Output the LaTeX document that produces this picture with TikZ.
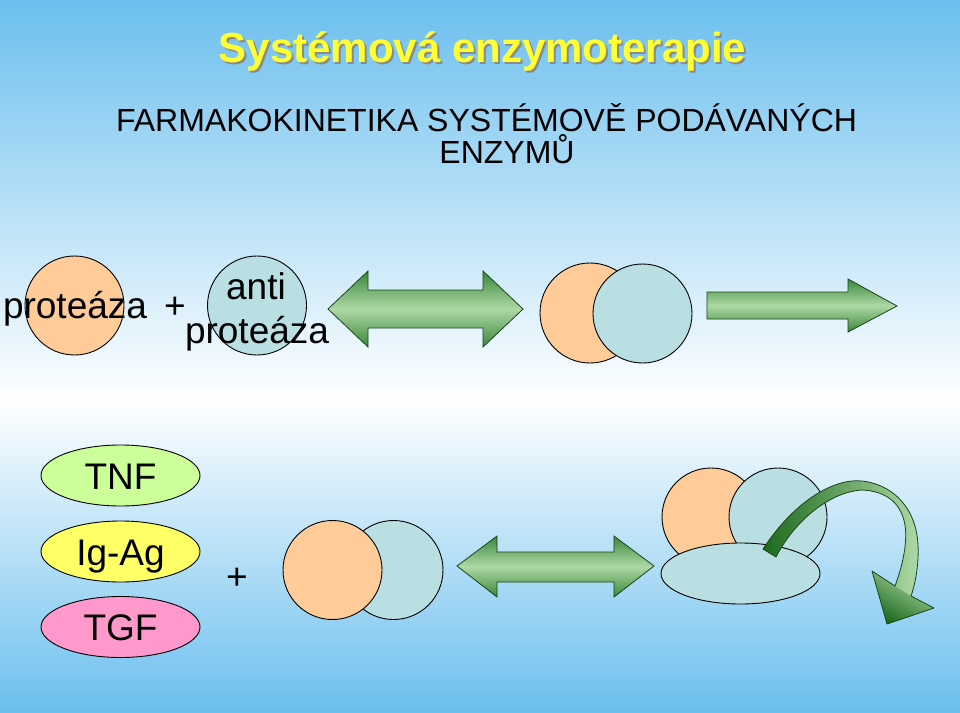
\documentclass[tikz,border=0pt]{standalone}
\usepackage{fontspec}
\setmainfont{Liberation Sans}
\usetikzlibrary{shapes.geometric}
\definecolor{bgblue}{HTML}{6BBFEE}
\definecolor{orangef}{HTML}{FFCC99}
\definecolor{bluef}{HTML}{BADFE3}
\definecolor{tnff}{HTML}{CCFF99}
\definecolor{igf}{HTML}{FFFF66}
\definecolor{tgff}{HTML}{FF99CC}
\definecolor{gdark}{HTML}{3A873A}
\definecolor{gdarker}{HTML}{1C6A1C}
\definecolor{glight}{HTML}{AED9A6}
\definecolor{gline}{HTML}{1A441A}
\definecolor{titley}{HTML}{FFFF33}
\definecolor{shadowc}{HTML}{8A8A8A}
\begin{document}
\begin{tikzpicture}[x=1pt,y=-1pt,
  ball/.style={circle, draw=black, line width=0.9pt, inner sep=0pt, minimum size=99pt},
  oval/.style={ellipse, draw=black, line width=0.9pt, inner sep=0pt, minimum width=159pt, minimum height=61pt},
  lbl/.style={inner sep=0pt, anchor=base, font=\fontsize{37}{40}\selectfont},
  blockarrow/.style={draw=gline, line width=0.8pt, top color=gdark, bottom color=gdark, middle color=glight},
  ttl/.style={inner sep=0pt, anchor=base, font=\fontsize{42}{46}\selectfont\bfseries},
  sub/.style={inner sep=0pt, anchor=base, font=\fontsize{32}{36}\selectfont}]
% background
\useasboundingbox (0,0) rectangle (960,712);
\shade[top color=bgblue, bottom color=white] (0,0) rectangle (960,400);
\shade[top color=white, bottom color=bgblue] (0,399.5) rectangle (960,712);

% titles
\node[ttl, text=shadowc] (titleshadow) at (484.5,64.5) {Systémová enzymoterapie};
\node[ttl, text=titley] (title) at (482.5,62) {Systémová enzymoterapie};
\node[sub] (sub1) at (486.5,131) {FARMAKOKINETIKA SYSTÉMOVĚ PODÁVANÝCH};
\node[sub] (sub2) at (507,163) {ENZYMŮ};

% row 1
\node[ball, fill=orangef] (prot) at (74.5,305.5) {};
\node[lbl] (protlbl) at (75,318) {proteáza};
\node[lbl] (plus1) at (175,318) {+};
\node[ball, fill=bluef] (anti) at (257,305.5) {};
\node[lbl] (antilbl) at (256,299) {anti};
\node[lbl] (antilbl2) at (257,343) {proteáza};

\path[blockarrow] (328,309) -- (368,271) -- (368,290) -- (483,290) -- (483,271)
  -- (523,309) -- (483,347) -- (483,328) -- (368,328) -- (368,347) -- cycle;

\node[ball, fill=orangef, minimum size=100pt] (cx1a) at (590,313) {};
\node[ball, fill=bluef] (cx1b) at (642.5,313.5) {};

\path[blockarrow] (707,292) -- (848,292) -- (848,279) -- (897,306) -- (848,332)
  -- (848,319) -- (707,319) -- cycle;

% row 2
\node[oval, fill=tnff] (tnf) at (120.5,475.5) {};
\node[lbl] (tnflbl) at (120.5,489) {TNF};
\node[oval, fill=igf] (igag) at (120.5,551.5) {};
\node[lbl] (iglbl) at (120.5,565) {Ig-Ag};
\node[oval, fill=tgff] (tgf) at (120.5,627) {};
\node[lbl] (tgflbl) at (120.5,640.5) {TGF};
\node[lbl] (plus2) at (237,589) {+};

\node[ball, fill=bluef] (cx2b) at (393.5,570) {};
\node[ball, fill=orangef] (cx2a) at (332.5,570) {};

\path[blockarrow] (457,566) -- (497,536) -- (497,552) -- (614,552) -- (614,536)
  -- (654,566) -- (614,597) -- (614,582) -- (497,582) -- (497,597) -- cycle;

\node[ball, fill=orangef, minimum size=98pt] (cx3a) at (711,517) {};
\node[ball, fill=bluef, minimum size=98pt] (cx3b) at (778,517) {};
\node[oval, fill=bluef] (cx3c) at (740.5,573.5) {};

% curved arrow
\shade[left color=gdarker, right color=glight]
  (763,549) .. controls (795,500) and (835,478) .. (862,481)
  .. controls (890,484) and (916,505) .. (918,545)
  .. controls (919,565) and (915,585) .. (911,596)
  -- (895,586)
  .. controls (901,570) and (908,545) .. (905,525)
  .. controls (901,502) and (885,491) .. (862,490)
  .. controls (830,492) and (795,520) .. (776,557) -- cycle;
\shade[top color=glight, bottom color=gdarker, shading angle=-30]
  (911,596) -- (934,608) -- (887,624) -- (872,571) -- (895,586) -- cycle;
\draw[gline, line width=0.8pt, line join=round]
  (763,549) .. controls (795,500) and (835,478) .. (862,481)
  .. controls (890,484) and (916,505) .. (918,545)
  .. controls (919,565) and (915,585) .. (911,596)
  -- (934,608) -- (887,624) -- (872,571) -- (895,586)
  .. controls (901,570) and (908,545) .. (905,525)
  .. controls (901,502) and (885,491) .. (862,490)
  .. controls (830,492) and (795,520) .. (776,557) -- cycle;
\end{tikzpicture}
\end{document}
